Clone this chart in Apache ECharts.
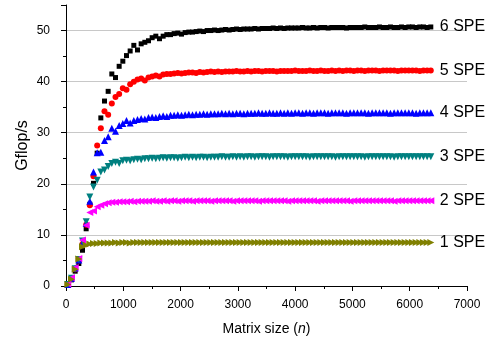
<!DOCTYPE html>
<html>
<head>
<meta charset="utf-8">
<script src="https://cdn.jsdelivr.net/npm/echarts@6/dist/echarts.min.js"></script>
<style>
  html, body { margin: 0; padding: 0; background: #fff; }
  #chart { width: 489px; height: 342px; }
</style>
</head>
<body>
<div id="chart"></div>
<script>
// matrix sizes (n)
const matrixSize = [
  32, 96, 160, 224, 288, 352, 416, 480, 544, 608,
  672, 736, 800, 864, 928, 992, 1056, 1120, 1184, 1248,
  1312, 1376, 1440, 1504, 1568, 1632, 1696, 1760, 1824, 1888,
  1952, 2016, 2080, 2144, 2208, 2272, 2336, 2400, 2464, 2528,
  2592, 2656, 2720, 2784, 2848, 2912, 2976, 3040, 3104, 3168,
  3232, 3296, 3360, 3424, 3488, 3552, 3616, 3680, 3744, 3808,
  3872, 3936, 4000, 4064, 4128, 4192, 4256, 4320, 4384, 4448,
  4512, 4576, 4640, 4704, 4768, 4832, 4896, 4960, 5024, 5088,
  5152, 5216, 5280, 5344, 5408, 5472, 5536, 5600, 5664, 5728,
  5792, 5856, 5920, 5984, 6048, 6112, 6176, 6240, 6304, 6368
];

const spe6 = [
  0.2, 1.2, 2.9, 4.4, 7.0, 11.2, 16.0, 20.1, 26.0, 32.9,
  36.2, 38.1, 41.5, 40.8, 43.0, 44.0, 45.1, 46.0, 47.1, 46.2,
  47.4, 47.7, 48.0, 48.6, 48.9, 48.4, 48.9, 49.2, 49.2, 49.4,
  49.5, 49.3, 49.6, 49.7, 49.7, 49.8, 49.9, 49.8, 50.0, 50.0,
  50.1, 50.0, 50.1, 50.2, 50.1, 50.2, 50.3, 50.2, 50.3, 50.3,
  50.3, 50.4, 50.3, 50.4, 50.4, 50.4, 50.5, 50.4, 50.5, 50.4,
  50.5, 50.5, 50.5, 50.5, 50.6, 50.5, 50.5, 50.6, 50.5, 50.6,
  50.6, 50.5, 50.6, 50.6, 50.6, 50.6, 50.5, 50.6, 50.6, 50.6,
  50.6, 50.7, 50.6, 50.6, 50.6, 50.7, 50.6, 50.6, 50.7, 50.6,
  50.6, 50.7, 50.6, 50.7, 50.7, 50.6, 50.7, 50.7, 50.6, 50.7
];

const spe5 = [
  0.3, 1.4, 3.3, 5.0, 8.2, 12.0, 15.8, 21.5, 27.5, 30.9,
  34.2, 33.5, 35.7, 37.0, 37.6, 38.7, 38.4, 39.5, 40.0, 40.4,
  40.6, 40.2, 40.8, 41.0, 41.2, 41.0, 41.4, 41.5, 41.5, 41.6,
  41.7, 41.6, 41.7, 41.8, 41.8, 41.7, 41.9, 41.8, 41.9, 42.0,
  41.9, 42.0, 41.9, 42.0, 42.0, 42.0, 42.1, 42.0, 42.0, 42.1,
  42.0, 42.1, 42.1, 42.0, 42.1, 42.1, 42.1, 42.0, 42.1, 42.1,
  42.1, 42.1, 42.2, 42.1, 42.1, 42.1, 42.2, 42.1, 42.1, 42.2,
  42.1, 42.1, 42.2, 42.1, 42.2, 42.1, 42.2, 42.2, 42.1, 42.2,
  42.2, 42.1, 42.2, 42.2, 42.2, 42.1, 42.2, 42.2, 42.2, 42.2,
  42.1, 42.2, 42.2, 42.2, 42.2, 42.2, 42.1, 42.2, 42.2, 42.2
];

const spe4 = [
  0.3, 1.5, 3.5, 5.1, 8.4, 12.3, 16.6, 22.3, 26.1, 26.2,
  28.5, 29.2, 30.9, 30.3, 31.4, 31.8, 32.4, 31.9, 32.4, 32.6,
  32.8, 32.7, 33.0, 33.1, 33.0, 33.2, 33.3, 33.2, 33.4, 33.4,
  33.5, 33.4, 33.5, 33.6, 33.5, 33.6, 33.6, 33.7, 33.6, 33.7,
  33.7, 33.7, 33.8, 33.7, 33.8, 33.7, 33.8, 33.8, 33.7, 33.8,
  33.8, 33.8, 33.9, 33.8, 33.8, 33.9, 33.8, 33.8, 33.9, 33.8,
  33.9, 33.8, 33.9, 33.9, 33.8, 33.9, 33.9, 33.8, 33.9, 33.9,
  33.9, 33.8, 33.9, 33.9, 33.9, 33.9, 33.8, 33.9, 33.9, 33.9,
  33.9, 33.9, 33.8, 33.9, 33.9, 33.9, 33.9, 33.9, 33.8, 33.9,
  33.9, 33.9, 33.9, 33.9, 33.9, 33.8, 33.9, 33.9, 33.9, 33.9
];

const spe3 = [
  0.3, 1.5, 3.4, 5.2, 8.8, 12.6, 17.4, 19.4, 20.7, 22.3,
  22.7, 23.4, 24.0, 24.2, 24.0, 24.5, 24.6, 24.5, 24.7, 24.8,
  24.7, 24.9, 24.9, 25.0, 24.9, 25.0, 25.1, 25.0, 25.1, 25.1,
  25.0, 25.1, 25.2, 25.1, 25.2, 25.1, 25.2, 25.2, 25.1, 25.2,
  25.2, 25.2, 25.3, 25.2, 25.2, 25.3, 25.2, 25.3, 25.2, 25.3,
  25.3, 25.2, 25.3, 25.3, 25.3, 25.2, 25.3, 25.3, 25.3, 25.3,
  25.2, 25.3, 25.3, 25.3, 25.3, 25.3, 25.2, 25.3, 25.3, 25.3,
  25.3, 25.3, 25.3, 25.2, 25.3, 25.3, 25.3, 25.3, 25.3, 25.3,
  25.3, 25.2, 25.3, 25.3, 25.3, 25.3, 25.3, 25.3, 25.3, 25.2,
  25.3, 25.3, 25.3, 25.3, 25.3, 25.3, 25.3, 25.3, 25.3, 25.3
];

const spe2 = [
  0.4, 1.6, 3.6, 5.4, 9.0, 11.9, 14.4, 14.7, 15.5, 15.8,
  16.1, 16.3, 16.4, 16.4, 16.5, 16.5, 16.5, 16.6, 16.5, 16.6,
  16.6, 16.6, 16.6, 16.7, 16.6, 16.6, 16.7, 16.6, 16.7, 16.7,
  16.6, 16.7, 16.7, 16.7, 16.6, 16.7, 16.7, 16.7, 16.7, 16.6,
  16.7, 16.7, 16.7, 16.7, 16.7, 16.6, 16.7, 16.7, 16.7, 16.7,
  16.7, 16.7, 16.6, 16.7, 16.7, 16.7, 16.7, 16.7, 16.7, 16.7,
  16.6, 16.7, 16.7, 16.7, 16.7, 16.7, 16.7, 16.7, 16.6, 16.7,
  16.7, 16.7, 16.7, 16.7, 16.7, 16.7, 16.7, 16.6, 16.7, 16.7,
  16.7, 16.7, 16.7, 16.7, 16.7, 16.7, 16.7, 16.7, 16.7, 16.6,
  16.7, 16.7, 16.7, 16.7, 16.7, 16.7, 16.7, 16.7, 16.7, 16.7
];

const spe1 = [
  0.3, 1.3, 3.3, 5.3, 7.7, 8.0, 8.2, 8.3, 8.3, 8.4,
  8.4, 8.4, 8.4, 8.5, 8.4, 8.5, 8.5, 8.4, 8.5, 8.5,
  8.5, 8.5, 8.5, 8.5, 8.5, 8.5, 8.5, 8.5, 8.5, 8.5,
  8.5, 8.5, 8.5, 8.5, 8.5, 8.5, 8.5, 8.5, 8.5, 8.5,
  8.5, 8.5, 8.5, 8.5, 8.5, 8.5, 8.5, 8.5, 8.5, 8.5,
  8.5, 8.5, 8.5, 8.5, 8.5, 8.5, 8.5, 8.5, 8.5, 8.5,
  8.5, 8.5, 8.5, 8.5, 8.5, 8.5, 8.5, 8.5, 8.5, 8.5,
  8.5, 8.5, 8.5, 8.5, 8.5, 8.5, 8.5, 8.5, 8.5, 8.5,
  8.5, 8.5, 8.5, 8.5, 8.5, 8.5, 8.5, 8.5, 8.5, 8.5,
  8.5, 8.5, 8.5, 8.5, 8.5, 8.5, 8.5, 8.5, 8.5, 8.5
];

const seriesNames = ['6 SPE', '5 SPE', '4 SPE', '3 SPE', '2 SPE', '1 SPE'];
const seriesValues = [spe6, spe5, spe4, spe3, spe2, spe1];
const seriesColors = ['#000000', '#ff0000', '#0000ff', '#008080', '#ff00ff', '#808000'];
// square, circle, up / down / left / right triangles
const seriesSymbols = [
  ['rect', 5, 0],
  ['circle', 6, 0],
  ['triangle', 7, 0],
  ['triangle', 7, 180],
  ['triangle', 7, 90],
  ['triangle', 7, -90]
];

const font = 'Liberation Sans, Arial, sans-serif';

const chart = echarts.init(document.getElementById('chart'));

const series = seriesNames.map((name, i) => ({
  name: name,
  type: 'line',
  data: matrixSize.map((n, j) => [n, seriesValues[i][j]]),
  symbol: seriesSymbols[i][0],
  symbolSize: seriesSymbols[i][1],
  symbolRotate: seriesSymbols[i][2],
  showSymbol: true,
  showAllSymbol: true,
  lineStyle: { width: 0, opacity: 0 },
  itemStyle: { color: seriesColors[i] },
  emphasis: { disabled: true },
  endLabel: {
    show: true,
    formatter: name,
    distance: 9,
    color: '#000',
    fontSize: 16,
    fontFamily: font
  }
}));

chart.setOption({
  animation: false,
  grid: {
    left: 66,
    right: 22,
    top: 5,
    bottom: 56
  },
  xAxis: {
    type: 'value',
    min: 0,
    max: 7000,
    interval: 1000,
    name: 'Matrix size ({i|n})',
    nameLocation: 'middle',
    nameGap: 36,
    nameTextStyle: {
      color: '#000',
      fontSize: 14,
      fontFamily: font,
      rich: {
        i: { fontStyle: 'italic', fontSize: 14, fontFamily: font, color: '#000' }
      }
    },
    axisLine: { lineStyle: { color: '#000', width: 1 } },
    axisTick: { inside: false, length: 5, lineStyle: { color: '#000' } },
    minorTick: { show: true, splitNumber: 2, length: 3, lineStyle: { color: '#000' } },
    axisLabel: {
      color: '#000',
      fontSize: 12,
      fontFamily: font,
      margin: 13,
      formatter: v => String(v)
    },
    splitLine: { show: false }
  },
  yAxis: {
    type: 'value',
    min: 0,
    max: 55,
    interval: 10,
    name: 'Gflop/s',
    nameLocation: 'middle',
    nameGap: 35,
    nameMoveOverlap: false,
    nameTextStyle: { color: '#000', fontSize: 16, fontFamily: font },
    axisLine: { show: true, lineStyle: { color: '#000', width: 1 } },
    axisTick: { show: true, inside: false, length: 5, lineStyle: { color: '#000' } },
    minorTick: { show: true, splitNumber: 2, length: 3, lineStyle: { color: '#000' } },
    axisLabel: {
      color: '#000',
      fontSize: 12,
      fontFamily: font,
      margin: 16,
      formatter: v => (v % 10 === 0 ? String(v) : '')
    },
    splitLine: {
      show: true,
      showMinLine: false,
      showMaxLine: false,
      lineStyle: { color: '#c8c8c8', width: 1 }
    }
  },
  series: series
});
</script>
</body>
</html>
